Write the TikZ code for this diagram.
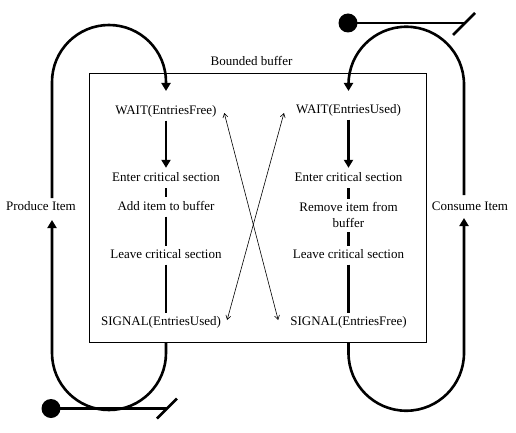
\documentclass[tikz,border=0pt]{standalone}
\usepackage{fontspec}
\setmainfont{Liberation Serif}
\usetikzlibrary{arrows.meta}
\begin{document}
\begin{tikzpicture}[x=1pt,y=1pt,
  lbl/.style={font=\fontsize{13}{16}\selectfont, inner sep=1.5pt, text height=9pt, text depth=3pt},
  mlbl/.style={font=\fontsize{13}{16}\selectfont, inner sep=1.5pt, align=center},
  flow/.style={line width=2.8pt},
  loopline/.style={line width=2.6pt},
  thick tip/.style={-{Triangle[width=9pt,length=8pt]}},
  thin/.style={line width=0.6pt, {Straight Barb[length=4pt,width=5pt]}-{Straight Barb[length=4pt,width=5pt]}}
]
\useasboundingbox (0,0) rectangle (516,432);
% box
\node[draw, line width=0.8pt, minimum width=337pt, minimum height=269pt, inner sep=0pt, outer sep=0pt] (box) at (257.5,224.5) {};
\node[lbl] (title) at (251.5,369) {Bounded buffer};
% left column
\node[lbl] (wf)  at (166,321) {WAIT(EntriesFree)};
\node[lbl] (ec1) at (166,254) {Enter critical section};
\node[lbl] (add) at (166,225) {Add item to buffer};
\node[lbl] (lc1) at (166,177) {Leave critical section};
\node[lbl] (su)  at (161,110) {SIGNAL(EntriesUsed)};
% right column
\node[lbl] (wu)  at (348.5,322) {WAIT(EntriesUsed)};
\node[lbl] (ec2) at (348.5,254) {Enter critical section};
\node[mlbl] (rem) at (348.5,217) {Remove item from\\buffer};
\node[lbl] (lc2) at (348.5,177) {Leave critical section};
\node[lbl] (sf)  at (348.5,110) {SIGNAL(EntriesFree)};
% outside labels
\node[lbl] (prod) at (41,225) {Produce Item};
\node[lbl] (cons) at (470,225) {Consume Item};
% column connectors
\draw[flow,thick tip,shorten <=2pt,shorten >=2.5pt] (wf.south) -- (ec1.north);
\draw[flow,shorten <=2.5pt,shorten >=2pt] (ec1.south) -- (add.north);
\draw[flow,shorten <=2pt,shorten >=1.5pt] (add.south) -- (lc1.north);
\draw[flow,shorten <=2pt,shorten >=1.5pt] (lc1.south) -- (lc1.south |- su.north);
\draw[flow,thick tip,shorten <=2pt,shorten >=2.5pt] (wu.south) -- (ec2.north);
\draw[flow,shorten <=2.5pt,shorten >=2pt] (ec2.south) -- (rem.north);
\draw[flow,shorten <=3pt,shorten >=1.5pt] (rem.south) -- (lc2.north);
\draw[flow,shorten <=2pt,shorten >=1.5pt] (lc2.south) -- (sf.north);
% crossing thin arrows
\draw[thin] ([xshift=6pt,yshift=-2pt]wf.east) -- ([xshift=-10.5pt,yshift=2pt]sf.west);
\draw[thin] ([xshift=-10.5pt,yshift=-3pt]wu.west) -- ([xshift=4.5pt,yshift=2pt]su.east);
% left loop
\coordinate (lbot) at (lc1 |- box.south);
\coordinate (ptip) at (52,212);
\coordinate (pfrom) at (52,234);
\coordinate (wftip) at (166,341);
\draw[loopline,thick tip] (lbot) -- (166,79) arc[start angle=0,end angle=-180,radius=57] -- (ptip);
\draw[loopline,thick tip] (pfrom) -- (52,350) arc[start angle=180,end angle=0,radius=57] -- (wftip);
% right loop
\coordinate (rbot) at (sf |- box.south);
\coordinate (ctip) at (464,214);
\coordinate (cfrom) at (464,237);
\coordinate (wutip) at (348.5,341);
\draw[loopline,thick tip] (rbot) -- (348.5,79) arc[start angle=180,end angle=360,radius=57.75] -- (ctip);
\draw[loopline,thick tip] (cfrom) -- (464,347.5) arc[start angle=0,end angle=180,radius=57.75] -- (wutip);
% terminators
\coordinate (dl) at (51,23.5);
\coordinate (el) at (167,23.5);
\fill (dl) circle (9.5);
\draw[loopline] (dl) -- (el);
\draw[loopline] (157,13.5) -- (177,33.5);
\coordinate (dr) at (348,409);
\coordinate (er) at (464,409);
\fill (dr) circle (9.5);
\draw[loopline] (dr) -- (er);
\draw[loopline] (453,397) -- (475,419);
\end{tikzpicture}
\end{document}
